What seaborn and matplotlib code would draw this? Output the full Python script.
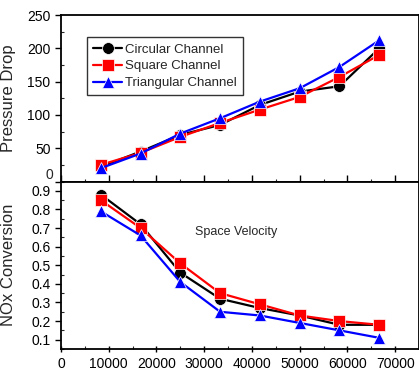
import numpy as np
import pandas as pd
import seaborn as sns
import matplotlib.pyplot as plt
from matplotlib.ticker import MultipleLocator

# space velocity values (x axis)
velocity = [8333, 16667, 25000, 33333, 41667, 50000, 58333, 66667]

channels = ["Circular Channel", "Square Channel", "Triangular Channel"]

pressure_circular = [22, 45, 70, 85, 115, 135, 143, 200]
pressure_square = [25, 43, 67, 88, 108, 127, 157, 190]
pressure_triangular = [20, 42, 72, 95, 120, 140, 172, 212]

nox_circular = [0.88, 0.72, 0.46, 0.32, 0.27, 0.23, 0.18, 0.18]
nox_square = [0.85, 0.70, 0.51, 0.35, 0.29, 0.23, 0.20, 0.18]
nox_triangular = [0.79, 0.66, 0.41, 0.25, 0.23, 0.19, 0.15, 0.11]

rows = []
for name, p, n in zip(channels,
                      [pressure_circular, pressure_square, pressure_triangular],
                      [nox_circular, nox_square, nox_triangular]):
    for v, pv, nv in zip(velocity, p, n):
        rows.append({"velocity": v, "channel": name, "pressure": pv, "nox": nv})
df = pd.DataFrame(rows)

sns.set_style("ticks")
plt.rcParams['font.family'] = ['Liberation Sans', 'DejaVu Sans']

colors = {"Circular Channel": "black", "Square Channel": "red", "Triangular Channel": "blue"}
markers = {"Circular Channel": "o", "Square Channel": "s", "Triangular Channel": "^"}

fig = plt.figure(figsize=(4.19, 3.81), dpi=100)
ax_top = fig.add_axes([0.1456, 0.5236, 0.8544, 0.437])
ax_bot = fig.add_axes([0.1456, 0.084, 0.8544, 0.4396], sharex=ax_top)

for ax, col in [(ax_top, "pressure"), (ax_bot, "nox")]:
    sns.lineplot(data=df, x="velocity", y=col, hue="channel", style="channel",
                 palette=colors, markers=markers, dashes=False, markersize=8.5,
                 markeredgewidth=0.5, linewidth=1.6, ax=ax, legend=(ax is ax_top))
    for s in ax.spines.values():
        s.set_linewidth(1.3)
        s.set_color("black")
    ax.tick_params(labelsize=10, width=1.0, length=4, colors="black")
    ax.tick_params(axis="x", which="major", direction="inout", length=5)
    ax.tick_params(which="minor", direction="in", width=0.8, length=2.5)
    ax.set_xlabel("")

ax_top.set_xlim(0, 75000)
ax_top.xaxis.set_major_locator(MultipleLocator(10000))
ax_top.xaxis.set_minor_locator(MultipleLocator(5000))
ax_top.set_ylim(0, 250)
ax_top.yaxis.set_major_locator(MultipleLocator(50))
ax_top.yaxis.set_minor_locator(MultipleLocator(25))
# the "0" of the upper panel is written separately, just above the joint line
ax_top.yaxis.set_major_formatter(plt.FuncFormatter(lambda v, p: "" if v == 0 else f"{v:.0f}"))
ax_top.text(-0.022, 0.0, "0", transform=ax_top.transAxes, ha="right", va="bottom",
            fontsize=10)
ax_top.tick_params(axis="x", which="both", labelbottom=False, direction="in")
ax_top.set_ylabel("Pressure Drop", fontsize=12)

ax_bot.set_ylim(0.05, 0.95)
ax_bot.yaxis.set_major_locator(MultipleLocator(0.1))
ax_bot.yaxis.set_minor_locator(MultipleLocator(0.05))
ax_bot.yaxis.set_major_formatter(plt.FuncFormatter(lambda v, p: f"{v:.1f}"))
ax_bot.set_ylabel("NOx Conversion", fontsize=12)
ax_bot.text(0.49, 0.70, "Space Velocity", transform=ax_bot.transAxes,
            ha="center", va="center", fontsize=9)

for ax in (ax_top, ax_bot):
    ax.yaxis.set_label_coords(-0.125, 0.5)

leg = ax_top.legend(loc="upper left", bbox_to_anchor=(0.055, 0.905), fontsize=9.5,
                    frameon=True, fancybox=False, edgecolor="black",
                    handlelength=2.2, handletextpad=0.2, borderpad=0.45,
                    labelspacing=0.35)
leg.get_frame().set_linewidth(1.0)

fig.savefig("out.png", dpi=100)
